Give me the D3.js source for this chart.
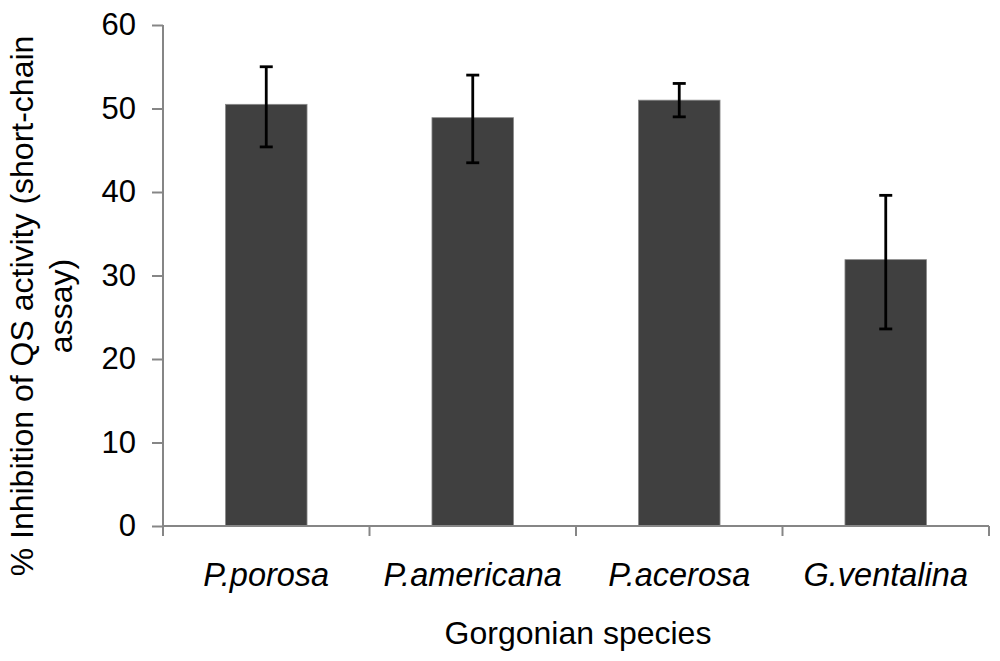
<!DOCTYPE html>
<html>
<head>
<meta charset="utf-8">
<script src="https://cdn.jsdelivr.net/npm/d3@7"></script>
<style>
  html, body { margin: 0; padding: 0; background: #fff; }
  svg { display: block; font-family: "Liberation Sans", Arial, sans-serif; }
</style>
</head>
<body>
<svg id="chart" width="1000" height="661"></svg>
<script>
const categories = ["P.porosa", "P.americana", "P.acerosa", "G.ventalina"];
const values = [50.5, 48.9, 51.0, 31.9];
const errLow = [45.4, 43.5, 49.0, 23.6];
const errHigh = [55.0, 54.0, 53.0, 39.6];
const yTicks = [0, 10, 20, 30, 40, 50, 60];
const yTitleLines = ["% Inhibition  of QS activity (short-chain", "assay)"];
const xTitle = "Gorgonian species";

const svg = d3.select("#chart");
const plotLeft = 163, plotRight = 989, plotTop = 25, plotBottom = 526;

const x = d3.scaleBand().domain(categories).range([plotLeft, plotRight]).padding(0);
const y = d3.scaleLinear().domain([0, 60]).range([plotBottom, plotTop]);
const barW = x.step() * 0.395;

const axisColor = "#868686";

// bars
svg.append("g").selectAll("rect").data(values).join("rect")
  .attr("x", (d, i) => x(categories[i]) + x.bandwidth() / 2 - barW / 2)
  .attr("y", d => y(d))
  .attr("width", barW)
  .attr("height", d => y(0) - y(d))
  .attr("fill", "#404040")
  .attr("stroke", "#8a8a8a")
  .attr("stroke-width", 0.8);

// error bars
const eg = svg.append("g").attr("stroke", "#000").attr("stroke-width", 2.8);
categories.forEach((c, i) => {
  const cx = x(c) + x.bandwidth() / 2;
  eg.append("line").attr("x1", cx).attr("x2", cx).attr("y1", y(errLow[i])).attr("y2", y(errHigh[i]));
  eg.append("line").attr("x1", cx - 6.5).attr("x2", cx + 6.5).attr("y1", y(errLow[i])).attr("y2", y(errLow[i]));
  eg.append("line").attr("x1", cx - 6.5).attr("x2", cx + 6.5).attr("y1", y(errHigh[i])).attr("y2", y(errHigh[i]));
});

// y axis
const yAxis = svg.append("g").attr("transform", `translate(${plotLeft},0)`)
  .call(d3.axisLeft(y).tickValues(yTicks).tickSize(11).tickPadding(16).tickFormat(d3.format("d")));
yAxis.select(".domain").attr("stroke", axisColor).attr("stroke-width", 2).attr("d", `M0,${plotTop}V${plotBottom}`);
yAxis.selectAll(".tick line").attr("stroke", axisColor).attr("stroke-width", 2);
yAxis.selectAll(".tick text").attr("font-size", 31).attr("fill", "#000")
  .attr("font-family", "Liberation Sans, Arial, sans-serif");

// x axis
const xAxis = svg.append("g").attr("transform", `translate(0,${plotBottom})`)
  .call(d3.axisBottom(x).tickSize(0).tickPadding(0));
xAxis.select(".domain").attr("stroke", axisColor).attr("stroke-width", 2).attr("d", `M${plotLeft},0H${plotRight}`);
xAxis.selectAll(".tick text").remove();
const bounds = categories.map(c => x(c)).concat([x(categories[categories.length - 1]) + x.step()]);
xAxis.selectAll("line.bound").data(bounds).join("line").attr("class", "bound")
  .attr("x1", d => d).attr("x2", d => d).attr("y1", 0).attr("y2", 10)
  .attr("stroke", axisColor).attr("stroke-width", 2);
xAxis.selectAll("text.cat").data(categories).join("text").attr("class", "cat")
  .attr("x", d => x(d) + x.bandwidth() / 2)
  .attr("y", 60)
  .attr("text-anchor", "middle")
  .attr("font-size", 32.5)
  .attr("font-style", "italic")
  .attr("fill", "#000")
  .attr("font-family", "Liberation Sans, Arial, sans-serif")
  .text(d => d);

// x title
svg.append("text")
  .attr("x", (plotLeft + plotRight) / 2 + 2)
  .attr("y", 644)
  .attr("text-anchor", "middle")
  .attr("font-size", 32)
  .attr("fill", "#000")
  .text(xTitle);

// y title
const yt = svg.append("text")
  .attr("transform", "translate(33,306) rotate(-90)")
  .attr("text-anchor", "middle")
  .attr("font-size", 32)
  .attr("fill", "#000");
yTitleLines.forEach((t, i) => {
  yt.append("tspan").attr("x", 0).attr("y", i * 39).text(t);
});
</script>
</body>
</html>
